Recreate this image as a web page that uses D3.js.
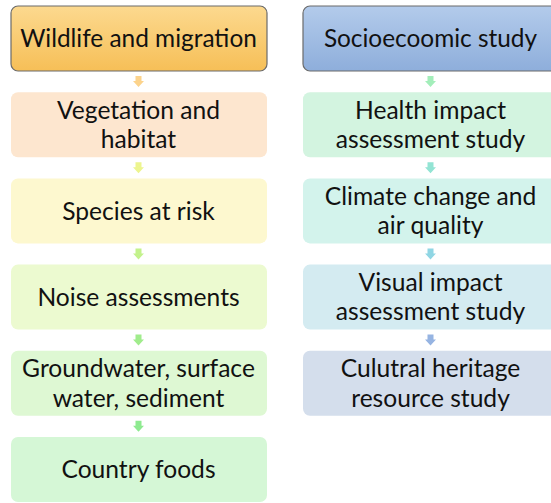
<!DOCTYPE html>
<html><head><meta charset="utf-8">
<script src="https://cdn.jsdelivr.net/npm/d3@7"></script>
<style>html,body{margin:0;padding:0;background:#fff;overflow:hidden}</style>
</head><body>
<svg id="c" width="551" height="503"></svg>
<script>
const leftLabels = [["Wildlife and migration"],["Vegetation and","habitat"],["Species at risk"],["Noise assessments"],["Groundwater, surface","water, sediment"],["Country foods"]];
const rightLabels = [["Socioecoomic study"],["Health impact","assessment study"],["Climate change and","air quality"],["Visual impact","assessment study"],["Culutral heritage","resource study"]];
const leftFills = ["url(#gOrange)","#fde6cf","#fdf8cf","#ecfad0","#def8d3","#d5f7d6"];
const rightFills = ["url(#gBlue)","#d3f4e0","#d3f3ec","#d4ebf1","#d4deec"];
const leftArrows = ["#fcd38c","#edf58f","#c3f28c","#a0ec8c","#8eea90"];
const rightArrows = ["#a3eeba","#93e4d4","#90d6e4","#96b4e2"];

const svg = d3.select("#c");
const defs = svg.append("defs");
const g1 = defs.append("linearGradient").attr("id","gOrange").attr("x1",0).attr("y1",0).attr("x2",0).attr("y2",1);
g1.append("stop").attr("offset","0%").attr("stop-color","#fcd98f");
g1.append("stop").attr("offset","100%").attr("stop-color","#f6bf57");
const g2 = defs.append("linearGradient").attr("id","gBlue").attr("x1",0).attr("y1",0).attr("x2",0).attr("y2",1);
g2.append("stop").attr("offset","0%").attr("stop-color","#b3cbeb");
g2.append("stop").attr("offset","100%").attr("stop-color","#8eaedb");

const boxH = 65;
const y = d3.scaleLinear().domain([0,1]).range([6, 92.2]);
const cols = [{x:11, w:256, labels:leftLabels, fills:leftFills, arrows:leftArrows},
              {x:303, w:256, labels:rightLabels, fills:rightFills, arrows:rightArrows}];

cols.forEach(col => {
  const cx = col.x + col.w/2 - 0.5;
  col.labels.forEach((lines,i) => {
    const top = y(i);
    const g = svg.append("g");
    g.append("rect").attr("x",col.x).attr("y",top).attr("width",col.w).attr("height",boxH)
      .attr("rx",7).attr("fill",col.fills[i])
      .attr("stroke", i===0 ? "#6b6b6b" : "none").attr("stroke-width",1.2);
    const fs = i===0 ? 24.4 : 24.6;
    const lh = 29.5;
    const t = g.append("text").attr("text-anchor","middle")
      .attr("font-family","Lato, 'Open Sans', sans-serif").attr("font-size",fs).attr("fill","#111");
    lines.forEach((ln,k) => {
      const yy = top + boxH/2 + (k - (lines.length-1)/2)*lh;
      t.append("tspan").attr("x",cx).attr("y",yy).attr("dy","0.35em").text(ln);
    });
    if (i < col.labels.length-1) {
      const ay = top + boxH + 5;
      const p = d3.path();
      p.moveTo(cx-3, ay); p.lineTo(cx+3, ay); p.lineTo(cx+3, ay+5);
      p.lineTo(cx+5.5, ay+5); p.lineTo(cx, ay+11); p.lineTo(cx-5.5, ay+5);
      p.lineTo(cx-3, ay+5); p.closePath();
      svg.append("path").attr("d",p.toString()).attr("fill",col.arrows[i]);
    }
  });
});
</script>
</body></html>
